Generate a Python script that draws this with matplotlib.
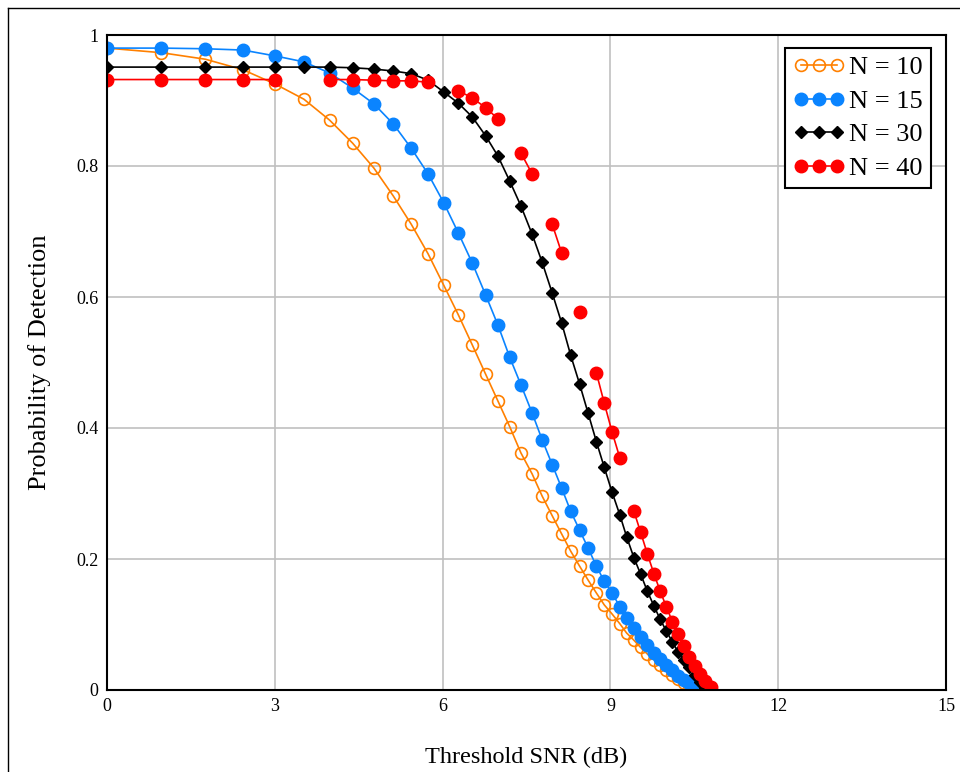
import numpy as np
import matplotlib
matplotlib.use('Agg')
import matplotlib.pyplot as plt
from matplotlib.lines import Line2D

plt.rcParams['font.family'] = ['Liberation Serif', 'DejaVu Serif']

# threshold SNR grid (dB), shared by all curves
snr = [0.00, 0.97, 1.76, 2.43, 3.01, 3.52, 3.98, 4.39, 4.77, 5.12,
       5.44, 5.74, 6.02, 6.28, 6.53, 6.77, 6.99, 7.20, 7.40, 7.60,
       7.78, 7.96, 8.13, 8.29, 8.45, 8.60, 8.75, 8.89, 9.03, 9.17,
       9.29, 9.42, 9.54, 9.66, 9.78, 9.89, 10.00, 10.11, 10.21, 10.31,
       10.41, 10.51, 10.61, 10.70, 10.79]

pd_n10 = [0.980, 0.973, 0.963, 0.947, 0.925, 0.902, 0.870, 0.835, 0.797, 0.754,
          0.711, 0.666, 0.618, 0.573, 0.527, 0.482, 0.441, 0.402, 0.362, 0.330,
          0.296, 0.266, 0.238, 0.212, 0.189, 0.168, 0.148, 0.130, 0.116, 0.101,
          0.087, 0.076, 0.065, 0.055, 0.046, 0.038, 0.030, 0.023, 0.017, 0.011,
          0.006, 0.002]

pd_n15 = [0.980, 0.980, 0.979, 0.977, 0.968, 0.959, 0.942, 0.919, 0.895, 0.864,
          0.827, 0.788, 0.744, 0.698, 0.652, 0.603, 0.557, 0.508, 0.466, 0.423,
          0.382, 0.344, 0.308, 0.273, 0.244, 0.217, 0.189, 0.166, 0.148, 0.127,
          0.110, 0.095, 0.081, 0.068, 0.057, 0.047, 0.038, 0.030, 0.022, 0.016,
          0.010, 0.005, 0.001]

pd_n30 = [0.951, 0.951, 0.951, 0.951, 0.951, 0.951, 0.951, 0.950, 0.948, 0.945,
          0.941, 0.931, 0.913, 0.896, 0.875, 0.846, 0.815, 0.777, 0.739, 0.696,
          0.653, 0.606, 0.560, 0.511, 0.467, 0.423, 0.379, 0.340, 0.302, 0.267,
          0.234, 0.202, 0.177, 0.151, 0.128, 0.108, 0.090, 0.073, 0.058, 0.046,
          0.035, 0.023, 0.012, 0.003]

nan = np.nan
pd_n40 = [0.932, 0.932, 0.932, 0.932, 0.932, nan, 0.932, 0.932, 0.931, 0.930,
          0.930, 0.928, nan, 0.915, 0.904, 0.889, 0.872, nan, 0.820, 0.788,
          nan, 0.711, 0.667, nan, 0.577, nan, 0.484, 0.438, 0.394, 0.354,
          nan, 0.273, 0.241, 0.208, 0.177, 0.151, 0.127, 0.104, 0.085, 0.067,
          0.050, 0.037, 0.024, 0.014, 0.005]

labels = ['N = 10', 'N = 15', 'N = 30', 'N = 40']
x_ticks = [0, 3, 6, 9, 12, 15]
y_ticks = [0, 0.2, 0.4, 0.6, 0.8, 1]
y_tick_labels = ['0', '0.2', '0.4', '0.6', '0.8', '1']

fig = plt.figure(figsize=(9.6, 7.72), dpi=100)
ax = fig.add_axes([107 / 960, 82 / 772, 839 / 960, 655 / 772])

ax.plot(snr[:len(pd_n10)], pd_n10, color='#ff8000', lw=1.2, marker='o', ms=8.5,
        mfc='none', mew=1.2, label=labels[0])
ax.plot(snr[:len(pd_n15)], pd_n15, color='#0a84ff', lw=1.2, marker='o', ms=9,
        label=labels[1])
ax.plot(snr[:len(pd_n30)], pd_n30, color='black', lw=1.2, marker='D', ms=6.5,
        label=labels[2])
ax.plot(snr[:len(pd_n40)], pd_n40, color='#ff0000', lw=1.2, marker='o', ms=9,
        label=labels[3])

ax.set_xlim(0, 15)
ax.set_ylim(0, 1)
ax.set_xticks(x_ticks)
ax.set_yticks(y_ticks)
ax.set_yticklabels(y_tick_labels)
ax.tick_params(length=0, labelsize=13, pad=6)
ax.grid(True, color='#c0c0c0', lw=1.2)
ax.set_axisbelow(True)
for s in ax.spines.values():
    s.set_linewidth(1.5)
    s.set_color('black')

ax.set_xlabel('Threshold SNR (dB)', fontsize=17.5, labelpad=23)
ax.set_ylabel('Probability of Detection', fontsize=19, labelpad=18)

leg = ax.legend(loc='upper right', bbox_to_anchor=(0.982, 0.980), fontsize=19,
                numpoints=3, handlelength=2.0, handletextpad=0.15,
                borderpad=0.3, labelspacing=0.38, fancybox=False,
                framealpha=1, borderaxespad=0)
leg.get_frame().set_edgecolor('black')
leg.get_frame().set_linewidth(1.5)

# outer frame of the worksheet region
fig.add_artist(Line2D([8 / 960, 8 / 960], [0, 1 - 8 / 772],
                      transform=fig.transFigure, color='black', lw=1))
fig.add_artist(Line2D([8 / 960, 1], [1 - 8 / 772, 1 - 8 / 772],
                      transform=fig.transFigure, color='black', lw=1))

fig.savefig('out.png', dpi=100)
